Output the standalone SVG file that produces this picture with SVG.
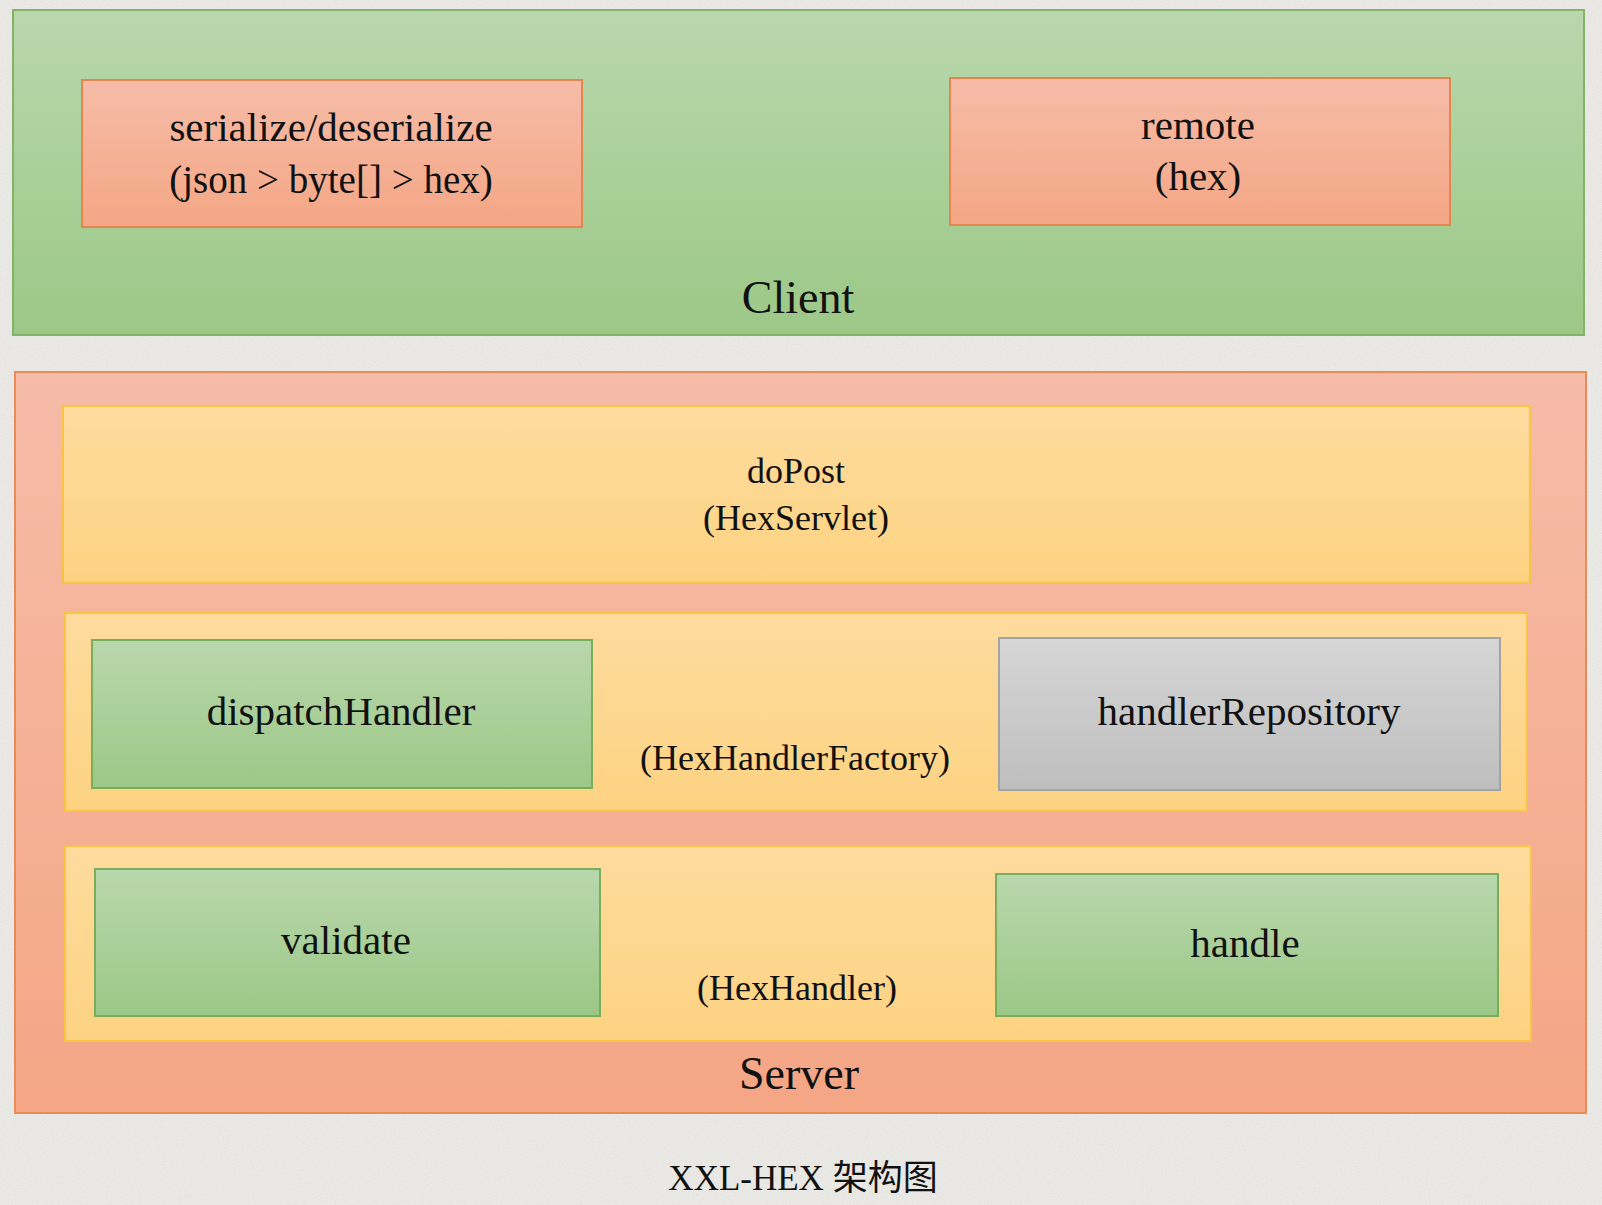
<svg xmlns="http://www.w3.org/2000/svg" width="1602" height="1205" viewBox="0 0 1602 1205">
<defs>
<linearGradient id="gGreen" x1="0" y1="0" x2="0" y2="1"><stop offset="0" stop-color="#b9d7ac"/><stop offset="1" stop-color="#9cc887"/></linearGradient>
<linearGradient id="gSalmon" x1="0" y1="0" x2="0" y2="1"><stop offset="0" stop-color="#f6bca8"/><stop offset="1" stop-color="#f4a685"/></linearGradient>
<linearGradient id="gYellow" x1="0" y1="0" x2="0" y2="1"><stop offset="0" stop-color="#fedb9e"/><stop offset="1" stop-color="#fdd382"/></linearGradient>
<linearGradient id="gGray" x1="0" y1="0" x2="0" y2="1"><stop offset="0" stop-color="#d6d6d6"/><stop offset="1" stop-color="#bebebe"/></linearGradient>
<filter id="paper" x="0" y="0" width="100%" height="100%"><feTurbulence type="fractalNoise" baseFrequency="0.9" numOctaves="2" seed="3" result="n"/><feColorMatrix in="n" type="matrix" values="0 0 0 0 0.55  0 0 0 0 0.55  0 0 0 0 0.52  0 0 0 0.35 0" result="c"/><feComposite in="c" in2="SourceGraphic" operator="atop"/></filter>
</defs>
<style>
text{font-family:"Liberation Serif","Times New Roman",serif;fill:#111;text-anchor:middle}
.lbl{font-size:41px}
.sub{font-size:36px}
.big{font-size:46px}
.title{font-size:35px;font-family:"Liberation Serif","Noto Sans CJK SC",serif}
.client{fill:url(#gGreen);stroke:#82b366;stroke-width:2}
.salmon{fill:url(#gSalmon);stroke:#e5854f;stroke-width:2}
.server{fill:url(#gSalmon);stroke:#ea8a58;stroke-width:2}
.yellow{fill:url(#gYellow);stroke:#f9c343;stroke-width:2}
.green{fill:url(#gGreen);stroke:#78ad5b;stroke-width:2}
.gray{fill:url(#gGray);stroke:#a3a3a3;stroke-width:2}
</style>
<rect x="0" y="0" width="1602" height="1205" fill="#efeeea" filter="url(#paper)"/>
<g id="client">
<rect class="client" x="13" y="10" width="1571" height="325"/>
<text class="big" x="798" y="313">Client</text>
</g>
<g id="serialize">
<rect class="salmon" x="82" y="80" width="500" height="147"/>
<text class="lbl" x="331" y="141">serialize/deserialize</text>
<text class="lbl" x="331" y="193" style="font-size:39px">(json &gt; byte[] &gt; hex)</text>
</g>
<g id="remote">
<rect class="salmon" x="950" y="78" width="500" height="147"/>
<text class="lbl" x="1198" y="139">remote</text>
<text class="lbl" x="1198" y="190">(hex)</text>
</g>
<g id="server">
<rect class="server" x="15" y="372" width="1571" height="741"/>
<text class="big" x="799" y="1089">Server</text>
</g>
<g id="hexServlet">
<rect class="yellow" x="63" y="406" width="1467" height="177"/>
<text class="sub" x="796" y="483">doPost</text>
<text class="sub" x="796" y="530">(HexServlet)</text>
</g>
<g id="hexHandlerFactory">
<rect class="yellow" x="65" y="613" width="1462" height="198"/>
<text class="sub" x="795" y="770">(HexHandlerFactory)</text>
</g>
<g id="dispatchHandler">
<rect class="green" x="92" y="640" width="500" height="148"/>
<text class="lbl" x="341" y="725">dispatchHandler</text>
</g>
<g id="handlerRepository">
<rect class="gray" x="999" y="638" width="501" height="152"/>
<text class="lbl" x="1249" y="725">handlerRepository</text>
</g>
<g id="hexHandler">
<rect class="yellow" x="65" y="846" width="1466" height="195"/>
<text class="sub" x="797" y="1000">(HexHandler)</text>
</g>
<g id="validate">
<rect class="green" x="95" y="869" width="505" height="147"/>
<text class="lbl" x="346" y="954">validate</text>
</g>
<g id="handle">
<rect class="green" x="996" y="874" width="502" height="142"/>
<text class="lbl" x="1245" y="957">handle</text>
</g>
<g id="connectors"></g>
<text class="title" x="803" y="1190">XXL-HEX 架构图</text>
</svg>
